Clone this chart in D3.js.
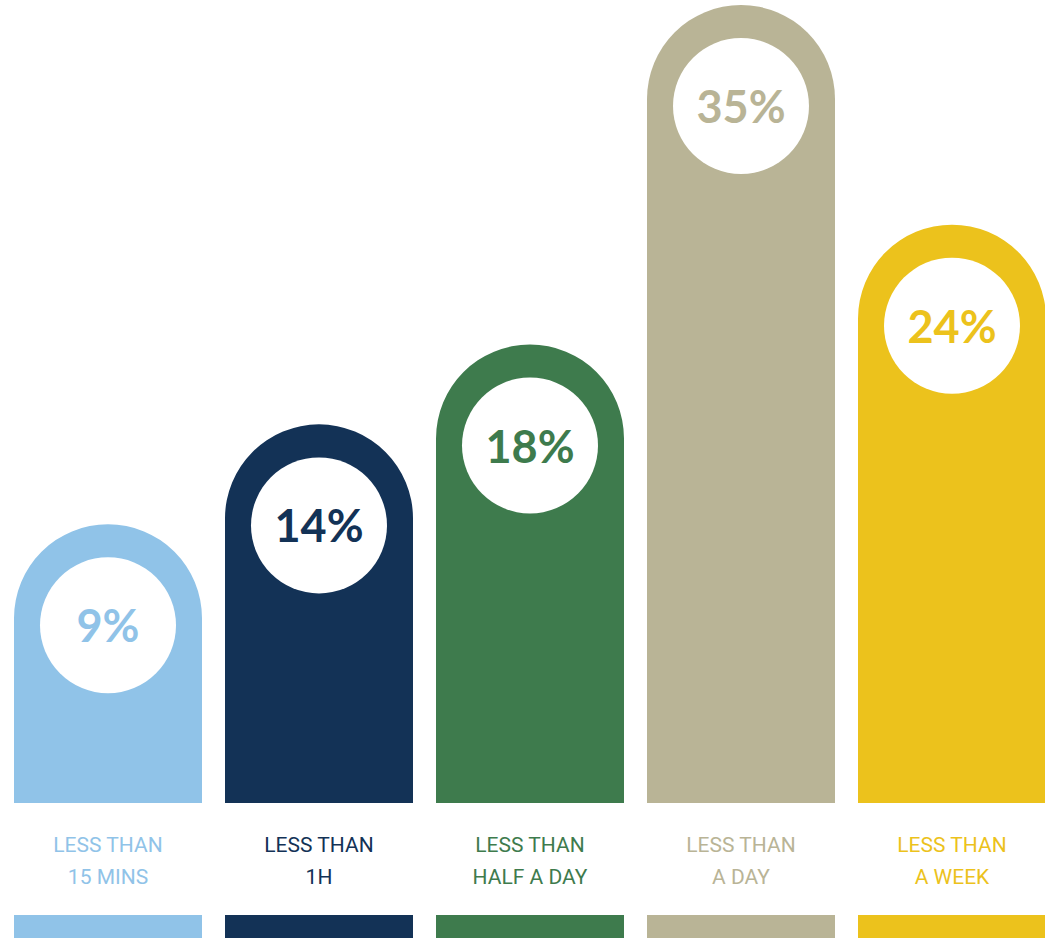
<!DOCTYPE html>
<html>
<head>
<meta charset="utf-8">
<script src="https://cdn.jsdelivr.net/npm/d3@7"></script>
<style>
  html, body { margin: 0; padding: 0; background: #fff; }
  svg { display: block; }
</style>
</head>
<body>
<div id="chart"></div>
<script>
// time to respond, share of answers
var categories = ['15m', '1h', 'halfday', 'day', 'week'];
var labelLine1 = ['LESS THAN', 'LESS THAN', 'LESS THAN', 'LESS THAN', 'LESS THAN'];
var labelLine2 = ['15 MINS', '1H', 'HALF A DAY', 'A DAY', 'A WEEK'];
var values = [9, 14, 18, 35, 24];
var colors = ['#90c3e8', '#133256', '#3e7b4d', '#b9b496', '#ecc21c'];

var width = 1045, height = 938;
var bottom = 803;

var svg = d3.select('#chart').append('svg')
  .attr('width', width)
  .attr('height', height);

var x = d3.scaleBand()
  .domain(categories)
  .range([14, 1046])
  .paddingInner(23 / 211)
  .paddingOuter(0);

var bw = x.bandwidth();
var r = bw / 2;

// value 0 still keeps the rounded cap
var y = d3.scaleLinear()
  .domain([0, 35])
  .range([bottom - 99, 5]);

var capPath = function(d, i) {
  var x0 = x(categories[i]);
  var top = y(d);
  var p = d3.path();
  p.moveTo(x0, bottom);
  p.lineTo(x0, top + r);
  p.arc(x0 + r, top + r, r, Math.PI, 0);
  p.lineTo(x0 + bw, bottom);
  p.closePath();
  return p.toString();
};

var g = svg.selectAll('g.bar')
  .data(values)
  .enter()
  .append('g')
  .attr('class', 'bar');

g.append('path')
  .attr('d', capPath)
  .style('fill', function(d, i) { return colors[i]; });

g.append('circle')
  .attr('cx', function(d, i) { return x(categories[i]) + r; })
  .attr('cy', function(d) { return y(d) + 101; })
  .attr('r', 68)
  .style('fill', '#fff');

g.append('text')
  .attr('x', function(d, i) { return x(categories[i]) + r; })
  .attr('y', function(d) { return y(d) + 118; })
  .attr('text-anchor', 'middle')
  .style('font-family', 'Lato, "Open Sans", sans-serif')
  .style('font-weight', 700)
  .style('font-size', '45px')
  .style('fill', function(d, i) { return colors[i]; })
  .text(function(d) { return d + '%'; });

// category labels under the bars
g.append('text')
  .attr('x', function(d, i) { return x(categories[i]) + r; })
  .attr('y', 852)
  .attr('text-anchor', 'middle')
  .style('font-family', 'Roboto, sans-serif')
  .style('font-weight', 400)
  .style('font-size', '21px')
  .style('fill', function(d, i) { return colors[i]; })
  .text(function(d, i) { return labelLine1[i]; });

g.append('text')
  .attr('x', function(d, i) { return x(categories[i]) + r; })
  .attr('y', 884)
  .attr('text-anchor', 'middle')
  .style('font-family', 'Roboto, sans-serif')
  .style('font-weight', 400)
  .style('font-size', '21px')
  .style('fill', function(d, i) { return colors[i]; })
  .text(function(d, i) { return labelLine2[i]; });

// bottom strip
g.append('rect')
  .attr('x', function(d, i) { return x(categories[i]); })
  .attr('y', 915)
  .attr('width', bw)
  .attr('height', height - 915)
  .style('fill', function(d, i) { return colors[i]; });
</script>
</body>
</html>
